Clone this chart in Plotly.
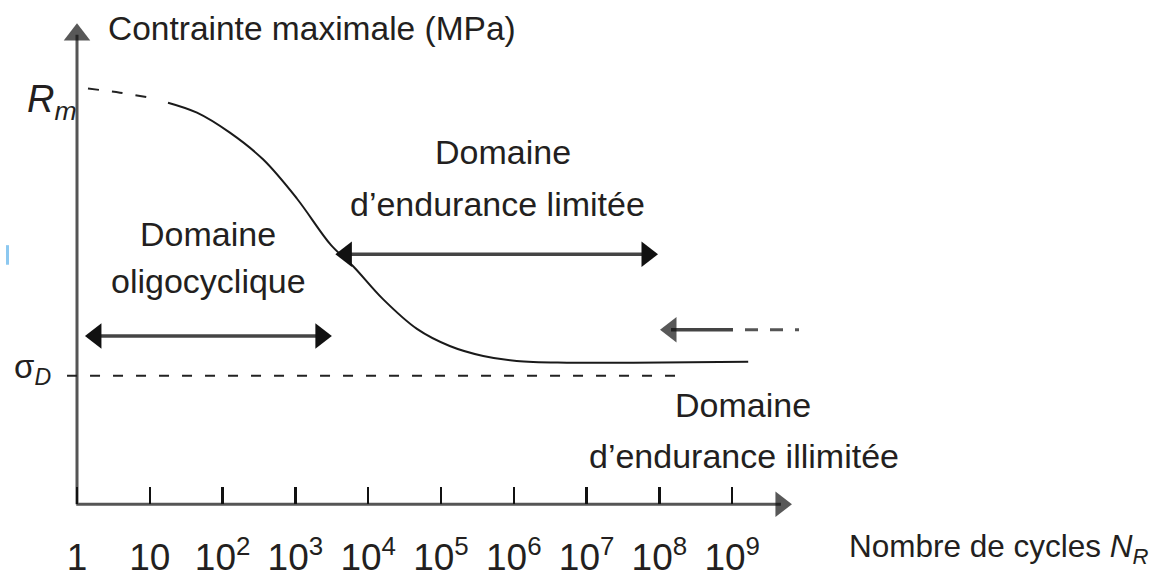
import plotly.graph_objects as go

# ---------------- data (x = log10 of number of cycles, y = stress / Rm) ----------------
tick_exponents = [0, 1, 2, 3, 4, 5, 6, 7, 8, 9]
tick_labels = ["1", "10", "10<sup>2</sup>", "10<sup>3</sup>", "10<sup>4</sup>", "10<sup>5</sup>",
               "10<sup>6</sup>", "10<sup>7</sup>", "10<sup>8</sup>", "10<sup>9</sup>"]

# Wöhler curve, dashed start near Rm
rm_dashed_log_n = [0.151, 0.591, 1.071]
rm_dashed_stress = [0.998, 0.988, 0.974]

curve_log_n = [1.25, 1.648, 2.10, 2.555, 3.02, 3.49, 3.79, 4.20, 4.67, 5.12, 5.58, 6.04, 6.73, 7.64, 9.22]
curve_stress = [0.964, 0.940, 0.892, 0.828, 0.734, 0.622, 0.572, 0.493, 0.421, 0.380, 0.356, 0.344, 0.340, 0.340, 0.342]

rm_level = 1.0
sigma_d_level = 0.3086
sigma_d_span = [-0.137, 8.35]

# domain arrows: [start, end] in log10(N), and their stress level
oligo_span = [0.26, 3.35]
oligo_level = 0.404
limited_span = [3.70, 7.83]
limited_level = 0.600
unlimited_solid_span = [8.16, 9.011]
unlimited_dashed_span = [9.176, 9.918]
unlimited_level = 0.419

x_axis_span = [-0.01, 9.67]
y_axis_span = [0.0, 1.127]

INK = "#231f20"
TXT_FONT = "Liberation Sans"

fig = go.Figure()

# axes drawn as arrows
fig.add_trace(go.Scatter(x=x_axis_span, y=[0, 0], mode="lines+markers",
                         line=dict(color="#555555", width=3),
                         marker=dict(symbol=["circle", "triangle-right"], size=[0, 22], color="#111111",
                                     line=dict(width=0)),
                         hoverinfo="skip"))
fig.add_trace(go.Scatter(x=[0, 0], y=y_axis_span, mode="lines+markers",
                         line=dict(color="#555555", width=3),
                         marker=dict(symbol=["circle", "triangle-up"], size=[0, 23], color="#111111",
                                     line=dict(width=0)),
                         hoverinfo="skip"))

# fatigue limit (dashed)
fig.add_trace(go.Scatter(x=sigma_d_span, y=[sigma_d_level, sigma_d_level], mode="lines",
                         line=dict(color="#222222", width=2, dash="10px,13px"), hoverinfo="skip"))

# Wöhler curve
fig.add_trace(go.Scatter(x=rm_dashed_log_n, y=rm_dashed_stress, mode="lines",
                         line=dict(color="#222222", width=2, dash="11px,13px", shape="spline"),
                         hoverinfo="skip"))
fig.add_trace(go.Scatter(x=curve_log_n, y=curve_stress, mode="lines",
                         line=dict(color="#1a1a1a", width=2, shape="spline", smoothing=1.0),
                         hoverinfo="skip"))

# domain arrows
for span, lvl in [(oligo_span, oligo_level), (limited_span, limited_level)]:
    fig.add_trace(go.Scatter(x=span, y=[lvl, lvl], mode="lines+markers",
                             line=dict(color="#444444", width=3.5),
                             marker=dict(symbol=["triangle-left", "triangle-right"], size=22,
                                         color="#111111", line=dict(width=0)),
                             hoverinfo="skip"))
fig.add_trace(go.Scatter(x=unlimited_solid_span, y=[unlimited_level, unlimited_level], mode="lines+markers",
                         line=dict(color="#444444", width=3.5),
                         marker=dict(symbol=["triangle-left", "circle"], size=[22, 0],
                                     color="#111111", line=dict(width=0)),
                         hoverinfo="skip"))
fig.add_trace(go.Scatter(x=unlimited_dashed_span, y=[unlimited_level, unlimited_level], mode="lines",
                         line=dict(color="#555555", width=3, dash="13px,12px"), hoverinfo="skip"))

# small scan artefact on the left edge
fig.add_trace(go.Scatter(x=[-0.955, -0.955], y=[0.575, 0.622], mode="lines",
                         line=dict(color="#8cc8f0", width=3), hoverinfo="skip"))

def txt(x, y, s, size=34, xanchor="center", font=TXT_FONT):
    fig.add_annotation(x=x, y=y, xref="x", yref="y", text=s, showarrow=False,
                       xanchor=xanchor, yanchor="middle",
                       font=dict(family=font, size=size, color=INK))

txt(0.40, 1.141, "Contrainte maximale (MPa)", size=33.5, xanchor="left")
txt(-0.714, 0.965, "<i>R</i><sub><i>m</i></sub>", size=38, xanchor="left")
txt(-0.893, 0.325, "σ<sub><i>D</i></sub>", size=33, xanchor="left")

txt(1.80, 0.648, "Domaine")
txt(1.81, 0.536, "oligocyclique")
txt(5.85, 0.8445, "Domaine")
txt(5.77, 0.720, "d’endurance limitée")
txt(9.15, 0.239, "Domaine")
txt(9.16, 0.115, "d’endurance illimitée")
txt(10.58, -0.105, "Nombre de cycles <i>N</i><sub><i>R</i></sub>", size=31.5, xanchor="left")

fig.update_layout(
    width=1159, height=578,
    margin=dict(l=0, r=0, t=0, b=0),
    paper_bgcolor="white", plot_bgcolor="white",
    showlegend=False,
    xaxis=dict(range=[-1.0577, 14.863], showgrid=False, zeroline=False, showline=False,
               anchor="free", position=(578 - 506) / 578,
               ticks="inside", ticklen=17, tickwidth=2.5, tickcolor="#111111",
               tickvals=tick_exponents, ticktext=tick_labels,
               tickfont=dict(family="Liberation Sans", size=37, color=INK),
               ticklabelstandoff=28, fixedrange=True),
    yaxis=dict(range=[-0.1722, 1.2105], visible=False, fixedrange=True),
)

fig.write_html("out.html",
               config={"displayModeBar": False, "staticPlot": True},
               post_script="document.body.style.margin='0';document.body.style.padding='0';")
